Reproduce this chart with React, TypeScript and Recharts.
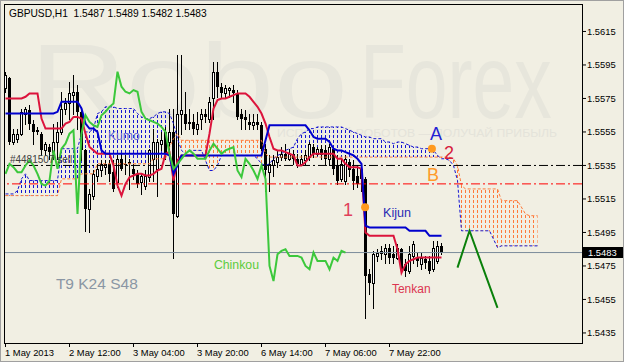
import {
  ComposedChart,
  Bar,
  Line,
  Area,
  XAxis,
  YAxis,
  ReferenceLine,
  ReferenceDot,
} from "recharts";

const FONT = '"Liberation Sans", Arial, sans-serif';

const symbol = "GBPUSD";
const period = "H1";

// hourly candles, bar 0 = left edge
const opens = [
  1.5581, 1.5587, 1.5549, 1.5551, 1.5554, 1.5566, 1.5568, 1.556, 1.5556, 1.5554,
  1.5544, 1.5546, 1.5543, 1.5549, 1.5555, 1.5569, 1.5572, 1.5577, 1.5579, 1.5567,
  1.5544, 1.5509, 1.5517, 1.5529, 1.5532, 1.5534, 1.5536, 1.5531, 1.5525, 1.5539,
  1.5536, 1.5537, 1.5533, 1.553, 1.5525, 1.5523, 1.5528, 1.5539, 1.5533, 1.5548,
  1.5555, 1.5549, 1.5555, 1.5505, 1.5566, 1.5566, 1.5561, 1.5561, 1.5557, 1.5563,
  1.5566, 1.5563, 1.5575, 1.5591, 1.5582, 1.5578, 1.558, 1.558, 1.5578, 1.5566,
  1.5564, 1.5561, 1.5559, 1.5561, 1.5559, 1.5545, 1.5531, 1.5535, 1.5537, 1.554,
  1.5542, 1.5539, 1.5542, 1.5539, 1.5536, 1.5538, 1.554, 1.5546, 1.5542, 1.5545,
  1.5544, 1.5539, 1.5545, 1.5535, 1.5527, 1.5526, 1.5537, 1.5533, 1.5529, 1.5533,
  1.5527, 1.547, 1.5465, 1.5481, 1.5483, 1.5482, 1.5486, 1.5482, 1.548, 1.5485,
  1.5476, 1.5472, 1.5481, 1.548, 1.5476, 1.5479, 1.5478, 1.5473, 1.5478, 1.5487,
];
const highs = [
  1.5591, 1.5588, 1.5557, 1.5557, 1.5569, 1.557, 1.5571, 1.5562, 1.5558, 1.5555,
  1.5549, 1.5548, 1.556, 1.5561, 1.5579, 1.5575, 1.5585, 1.5589, 1.5583, 1.557,
  1.5545, 1.5521, 1.5532, 1.5536, 1.5538, 1.5538, 1.5538, 1.5538, 1.5541, 1.5542,
  1.5541, 1.5539, 1.5536, 1.5532, 1.553, 1.5532, 1.5545, 1.5557, 1.5551, 1.5555,
  1.5558, 1.5569, 1.5569, 1.5601, 1.5601, 1.5579, 1.5569, 1.5566, 1.5567, 1.5569,
  1.5569, 1.5576, 1.5597, 1.5597, 1.5584, 1.5583, 1.5582, 1.5583, 1.558, 1.5569,
  1.5568, 1.5566, 1.5566, 1.5566, 1.5561, 1.5548, 1.5541, 1.5541, 1.5544, 1.5546,
  1.5548, 1.5545, 1.5544, 1.5542, 1.5541, 1.5544, 1.5549, 1.5548, 1.5546, 1.5547,
  1.5547, 1.5548, 1.5546, 1.5541, 1.5539, 1.5541, 1.5539, 1.5538, 1.5535, 1.5536,
  1.5528, 1.5473, 1.5484, 1.5485, 1.5487, 1.5488, 1.5488, 1.5487, 1.5488, 1.5486,
  1.5479, 1.5487, 1.549, 1.5483, 1.5483, 1.5481, 1.5481, 1.549, 1.549, 1.5489,
];
const lows = [
  1.5579, 1.5548, 1.5548, 1.5549, 1.5553, 1.556, 1.5557, 1.5548, 1.5554, 1.5541,
  1.5541, 1.5539, 1.5539, 1.5539, 1.5554, 1.5566, 1.5563, 1.5566, 1.5557, 1.5538,
  1.5496, 1.5495, 1.5515, 1.5526, 1.5529, 1.553, 1.5526, 1.552, 1.5522, 1.5532,
  1.553, 1.5521, 1.5527, 1.5522, 1.5518, 1.5521, 1.5526, 1.5526, 1.5517, 1.5544,
  1.5539, 1.5544, 1.548, 1.5504, 1.5554, 1.5557, 1.5557, 1.5554, 1.5554, 1.5557,
  1.5561, 1.5561, 1.5563, 1.5576, 1.5575, 1.5576, 1.5576, 1.5573, 1.5563, 1.5557,
  1.5557, 1.5557, 1.5557, 1.5557, 1.5544, 1.552, 1.552, 1.5529, 1.5534, 1.5538,
  1.5538, 1.5538, 1.5536, 1.5534, 1.5535, 1.5536, 1.5538, 1.554, 1.5541, 1.5539,
  1.5536, 1.5535, 1.553, 1.5524, 1.5526, 1.5524, 1.5529, 1.5521, 1.5522, 1.552,
  1.5444, 1.5458, 1.545, 1.5478, 1.5479, 1.5477, 1.5477, 1.5477, 1.5479, 1.5471,
  1.5469, 1.5471, 1.5477, 1.5475, 1.5473, 1.5474, 1.5471, 1.5472, 1.5477, 1.5482,
];
const closes = [
  1.5589, 1.5549, 1.5554, 1.5554, 1.5567, 1.5569, 1.556, 1.5555, 1.5555, 1.5544,
  1.5548, 1.5543, 1.5549, 1.5555, 1.5569, 1.5572, 1.5578, 1.5579, 1.5567, 1.5544,
  1.5509, 1.5518, 1.553, 1.5533, 1.5536, 1.5536, 1.553, 1.5521, 1.5539, 1.5533,
  1.5535, 1.5536, 1.553, 1.5524, 1.5529, 1.5529, 1.5544, 1.5549, 1.5549, 1.555,
  1.5542, 1.5555, 1.5506, 1.5566, 1.5568, 1.556, 1.556, 1.5557, 1.556, 1.5566,
  1.5564, 1.5573, 1.5591, 1.5582, 1.5578, 1.5581, 1.5581, 1.5578, 1.5564, 1.5563,
  1.5562, 1.5559, 1.5561, 1.5559, 1.5545, 1.5532, 1.5536, 1.5538, 1.554, 1.5542,
  1.5539, 1.5542, 1.5539, 1.5536, 1.5539, 1.5541, 1.5548, 1.5542, 1.5545, 1.5541,
  1.5539, 1.5546, 1.5533, 1.5526, 1.5536, 1.5539, 1.5532, 1.5526, 1.5524, 1.5527,
  1.5469, 1.5465, 1.5482, 1.5483, 1.5484, 1.5486, 1.548, 1.548, 1.5486, 1.5473,
  1.5472, 1.5482, 1.5488, 1.5478, 1.548, 1.5477, 1.5472, 1.5486, 1.5487, 1.5483,
];

// Ichimoku T9 K24 S48
const tenkan = [
  1.5575, 1.5575, 1.5575, 1.5575, 1.5575, 1.5576, 1.5578, 1.5578, 1.5578, 1.5563,
  1.5557, 1.5557, 1.5557, 1.5557, 1.5557, 1.556, 1.5561, 1.5564, 1.5564, 1.5563,
  1.5554, 1.5546, 1.5544, 1.5542, 1.5542, 1.5542, 1.5542, 1.5535, 1.5523, 1.5517,
  1.5524, 1.5528, 1.5529, 1.553, 1.553, 1.5529, 1.5529, 1.553, 1.5532, 1.5533,
  1.5542, 1.5543, 1.5526, 1.5538, 1.5541, 1.5541, 1.5541, 1.5541, 1.5541, 1.5541,
  1.5541, 1.5554, 1.5569, 1.5574, 1.5575, 1.5575, 1.5576, 1.5577, 1.5578, 1.5578,
  1.5578, 1.5576, 1.5573, 1.557, 1.5566, 1.556, 1.5552, 1.5545, 1.5544, 1.5544,
  1.5543, 1.5542, 1.5541, 1.5535, 1.5535, 1.5537, 1.554, 1.5542, 1.5542, 1.5542,
  1.5542, 1.5542, 1.5542, 1.5539, 1.5539, 1.5536, 1.5534, 1.5534, 1.5534, 1.5533,
  1.5495, 1.5493, 1.5493, 1.5493, 1.5493, 1.5493, 1.5493, 1.5493, 1.5485, 1.5471,
  1.5476, 1.5478, 1.5479, 1.548, 1.548, 1.548, 1.548, 1.548, 1.548, 1.548,
];
const kijun = [
  1.5566, 1.5566, 1.5566, 1.5566, 1.5566, 1.5566, 1.5566, 1.5566, 1.5566, 1.5566,
  1.5566, 1.5566, 1.5566, 1.5567, 1.5573, 1.5573, 1.5573, 1.5573, 1.5573, 1.5569,
  1.556, 1.5557, 1.5557, 1.5555, 1.5544, 1.5542, 1.5542, 1.5542, 1.5542, 1.5542,
  1.5542, 1.5542, 1.5542, 1.5542, 1.5542, 1.5542, 1.5542, 1.5542, 1.5542, 1.5542,
  1.5542, 1.5541, 1.553, 1.5535, 1.5541, 1.5541, 1.5541, 1.5541, 1.5541, 1.5541,
  1.5541, 1.5541, 1.5541, 1.5541, 1.5541, 1.5541, 1.5541, 1.5541, 1.5541, 1.5541,
  1.5541, 1.5541, 1.5541, 1.5541, 1.5541, 1.555, 1.5559, 1.5559, 1.5559, 1.5559,
  1.5559, 1.5559, 1.5559, 1.5559, 1.5559, 1.5559, 1.5556, 1.5552, 1.5551, 1.5551,
  1.5551, 1.5549, 1.5545, 1.5544, 1.5544, 1.5543, 1.5542, 1.5541, 1.5539, 1.5536,
  1.5499, 1.5498, 1.5498, 1.5498, 1.5498, 1.5498, 1.5498, 1.5498, 1.5498, 1.5498,
  1.5498, 1.5496, 1.5496, 1.5496, 1.5496, 1.5496, 1.5493, 1.5493, 1.5493, 1.5493,
];
const chinkou = [
  1.553, 1.5536, 1.5534, 1.5531, 1.5531, 1.5535, 1.5538, 1.5535, 1.553, 1.5524,
  1.5523, 1.5526, 1.5544, 1.5533, 1.5545, 1.5548, 1.5554, 1.5556, 1.5506, 1.5554,
  1.5565, 1.5561, 1.5559, 1.5558, 1.5565, 1.5567, 1.557, 1.5572, 1.5591, 1.5582,
  1.5579, 1.5578, 1.558, 1.5579, 1.5567, 1.5563, 1.5562, 1.5561, 1.556, 1.5558,
  1.5555, 1.5542, 1.5533, 1.5536, 1.5539, 1.5542, 1.5544, 1.5542, 1.5539, 1.5539,
  1.5539, 1.5544, 1.5548, 1.5545, 1.5542, 1.5544, 1.5545, 1.5546, 1.5532, 1.5528,
  1.5539, 1.5536, 1.5532, 1.5527, 1.5535, 1.5527, 1.5475, 1.5466, 1.5482, 1.5484,
  1.5485, 1.5481, 1.5481, 1.5481, 1.548, 1.5475, 1.5473, 1.5483, 1.5478, 1.5478,
  1.5478, 1.5473, 1.548, 1.5478, 1.5484, 1.5483,
];
const spanA = [
  1.5518, 1.5518, 1.5518, 1.552, 1.5527, 1.553, 1.5526, 1.5526, 1.5526, 1.5526,
  1.5526, 1.5526, 1.5526, 1.5526, 1.5545, 1.5545, 1.5545, 1.5545, 1.5545, 1.5554,
  1.5555, 1.5555, 1.5557, 1.5566, 1.5567, 1.557, 1.557, 1.557, 1.5569, 1.5569,
  1.5569, 1.5569, 1.5569, 1.5566, 1.5564, 1.5563, 1.5563, 1.5564, 1.5566, 1.5567,
  1.5567, 1.5566, 1.556, 1.5551, 1.5544, 1.5542, 1.5544, 1.5544, 1.5544, 1.5544,
  1.5538, 1.5532, 1.5532, 1.5535, 1.5541, 1.5541, 1.5541, 1.5541, 1.5541, 1.5541,
  1.5541, 1.5541, 1.5541, 1.5539, 1.5536, 1.5535, 1.5536, 1.5539, 1.5541, 1.5542,
  1.5544, 1.5545, 1.5546, 1.5551, 1.5554, 1.5555, 1.5557, 1.5557, 1.5558, 1.5558,
  1.5558, 1.5558, 1.5558, 1.5558, 1.5558, 1.5557, 1.5556, 1.5555, 1.5554, 1.5553,
  1.5552, 1.5552, 1.5551, 1.5551, 1.5551, 1.5549, 1.5549, 1.5548, 1.5549, 1.5549,
  1.5548, 1.5547, 1.5546, 1.5546, 1.5545, 1.5545, 1.5545, 1.5544, 1.5541, 1.5539,
  1.5539, 1.5538, 1.5535, 1.5526, 1.5496, 1.5496, 1.5496, 1.5496, 1.5496, 1.5496,
  1.5496, 1.5496, 1.5491, 1.5486, 1.5487, 1.5487, 1.5487, 1.5487, 1.5487, 1.5487,
  1.5487, 1.5487, 1.5487, 1.5487,
];
const spanB = [
  1.5517, 1.5517, 1.5517, 1.5517, 1.5517, 1.5517, 1.5517, 1.5517, 1.5517, 1.5517,
  1.5517, 1.5517, 1.5517, 1.5517, 1.5527, 1.5527, 1.5527, 1.5527, 1.5527, 1.553,
  1.553, 1.553, 1.553, 1.5536, 1.5536, 1.5536, 1.5536, 1.5536, 1.5536, 1.5536,
  1.5536, 1.5536, 1.5536, 1.5536, 1.5536, 1.5536, 1.5536, 1.5539, 1.5539, 1.5539,
  1.5539, 1.5546, 1.5551, 1.5554, 1.555, 1.555, 1.555, 1.555, 1.555, 1.555,
  1.555, 1.555, 1.555, 1.555, 1.555, 1.555, 1.555, 1.555, 1.555, 1.555,
  1.555, 1.555, 1.555, 1.555, 1.555, 1.5542, 1.554, 1.554, 1.554, 1.554,
  1.554, 1.554, 1.554, 1.554, 1.554, 1.554, 1.554, 1.554, 1.554, 1.554,
  1.554, 1.554, 1.554, 1.554, 1.554, 1.554, 1.554, 1.554, 1.554, 1.554,
  1.554, 1.554, 1.554, 1.554, 1.554, 1.554, 1.554, 1.554, 1.554, 1.554,
  1.554, 1.554, 1.554, 1.554, 1.554, 1.554, 1.554, 1.554, 1.554, 1.554,
  1.554, 1.554, 1.5539, 1.5535, 1.5523, 1.5521, 1.5521, 1.5521, 1.5521, 1.5521,
  1.5521, 1.5521, 1.5521, 1.5521, 1.5514, 1.5514, 1.5514, 1.5514, 1.5514, 1.551,
  1.5506, 1.5505, 1.5505, 1.5505,
];

// hand-drawn forecast: [bar, price]
const forecastPoints = [
  [113, 1.5474],
  [116, 1.5496],
  [123, 1.545],
];

const timeTickBars = [0, 16, 32, 48, 64, 80, 96];
const timeLabels = [
  "1 May 2013",
  "2 May 12:00",
  "3 May 04:00",
  "3 May 20:00",
  "6 May 14:00",
  "7 May 06:00",
  "7 May 22:00",
];
const priceTicks = [
  1.5435, 1.5455, 1.5475, 1.5495, 1.5515, 1.5535, 1.5555, 1.5575, 1.5595, 1.5615,
];

const orderLevel = 1.5535;
const alertLevel = 1.5524;

const annotations = [
  { text: "A", i: 107.6, p: 1.555, color: "#2222d4", size: 18, anchor: "middle" },
  { text: "2", i: 110.9, p: 1.5539, color: "#d6203c", size: 18, anchor: "middle" },
  { text: "B", i: 106.9, p: 1.5526, color: "#ff9a2a", size: 18, anchor: "middle" },
  { text: "1", i: 85.6, p: 1.5505, color: "#e0405a", size: 18, anchor: "middle" },
  { text: "Kijun", i: 94.4, p: 1.5504, color: "#2a2ab4", size: 12.6, anchor: "start" },
  { text: "Tenkan", i: 96.6, p: 1.5459, color: "#dc3450", size: 12, anchor: "start" },
  { text: "Chinkou", i: 52.1, p: 1.5473, color: "#5ccc3c", size: 12.3, anchor: "start" },
  { text: "Kumo", i: 25.6, p: 1.555, color: "#6262d8", size: 12.2, anchor: "start" },
  { text: "T9 K24 S48", i: 12.6, p: 1.5461, color: "#8a96a4", size: 15.5, anchor: "start" },
  { text: "#4481507 sell", i: 1.1, p: 1.55365, color: "#404040", size: 10, anchor: "start" },
];
const markerDots = [
  { i: 106.6, p: 1.5545 },
  { i: 89.9, p: 1.551 },
];

const up = (k: number) => spanA[k] >= spanB[k];

const rows = spanA.map((a, i) => {
  const b = spanB[i];
  const lo = Math.min(a, b);
  const hi = Math.max(a, b);
  const near = [i - 1, i, i + 1].filter((k) => k >= 0 && k < spanA.length);
  const row: any = {
    i,
    spanA: a,
    spanB: b,
    bull: near.some((k) => up(k)) ? [lo, hi] : null,
    bear: near.some((k) => !up(k)) ? [lo, hi] : null,
  };
  if (i < opens.length) {
    row.o = opens[i];
    row.h = highs[i];
    row.l = lows[i];
    row.c = closes[i];
    row.range = [lows[i], highs[i]];
    row.tenkan = tenkan[i];
    row.kijun = kijun[i];
  }
  if (i < chinkou.length) row.chinkou = chinkou[i];
  const f = forecastPoints.find((pt) => pt[0] === i);
  if (f) row.forecast = f[1];
  return row;
});

const Candle = (props: any) => {
  const { x, y, width, height, payload } = props;
  if (!payload || payload.o == null || !isFinite(y)) return <g />;
  const top = Math.min(y, y + height);
  const bot = Math.max(y, y + height);
  const span = payload.h - payload.l;
  const py = (v: number) => (span > 0 ? top + ((payload.h - v) / span) * (bot - top) : top);
  const cx = Math.round(x + width / 2 - 0.5) + 0.5;
  const yo = Math.round(py(payload.o));
  const yc = Math.round(py(payload.c));
  const bt = Math.min(yo, yc);
  const bb = Math.max(yo, yc);
  const bull = payload.c >= payload.o;
  return (
    <g>
      <line x1={cx} x2={cx} y1={Math.round(top)} y2={Math.round(bot) + 1} stroke="#000" strokeWidth={1} />
      {bull ? (
        <rect x={cx - 1} y={bt + 0.5} width={2} height={Math.max(bb - bt, 0)} fill="#fff" stroke="#000" strokeWidth={1} />
      ) : (
        <rect x={cx - 1.5} y={bt} width={3} height={Math.max(bb - bt, 1)} fill="#000" />
      )}
    </g>
  );
};

const TimeTick = (props: any) => {
  const { x, payload } = props;
  const lx = Math.floor(x) + 0.5;
  return (
    <g>
      <line x1={lx} x2={lx} y1={343} y2={347} stroke="#000" />
      <text x={x - 0.5} y={355.5} fontSize={9.4} fontFamily={FONT} fill="#000">
        {timeLabels[timeTickBars.indexOf(payload.value)]}
      </text>
    </g>
  );
};

export default function App() {
  const last = opens.length - 1;
  const title = `${symbol},${period}  ${opens[last].toFixed(4)} ${highs[last].toFixed(4)} ${lows[last].toFixed(4)} ${closes[last].toFixed(4)}`;
  const lastClose = closes[last];

  return (
    <div
      style={{
        position: "absolute",
        left: 0,
        top: 0,
        width: 624,
        height: 362,
        background: "#f1efe3",
        overflow: "hidden",
        fontFamily: FONT,
      }}
    >
      <svg width={624} height={362} style={{ position: "absolute", left: 0, top: 0 }}>
        <text
          transform="translate(30,118) scale(1,0.8)"
          fontSize={133}
          fontFamily={FONT}
          fill="#e7e6dc"
        >
          Robo
        </text>
        <text
          transform="translate(360,118) scale(1,1.41)"
          fontSize={75}
          fontFamily={FONT}
          fill="#e7e6dc"
        >
          Forex
        </text>
        <text x={277} y={137} fontSize={11} fontFamily={FONT} fill="#e4e3da" textLength={280} lengthAdjust="spacingAndGlyphs">
          ИСПОЛЬЗУЙ РОБОТОВ — ПОЛУЧАЙ ПРИБЫЛЬ
        </text>
      </svg>
      <div style={{ position: "absolute", left: 0, top: 0 }}>
        <ComposedChart width={624} height={362} data={rows} margin={{ top: 4, right: 0, bottom: 0, left: 4 }}>
          <defs>
            <pattern id="hatchBlue" patternUnits="userSpaceOnUse" x={5} y={0} width={4} height={5}>
              <rect x={0} y={0} width={1} height={3} fill="#1414d2" />
            </pattern>
            <pattern id="hatchOrange" patternUnits="userSpaceOnUse" x={5} y={0} width={4} height={5}>
              <rect x={0} y={0} width={1} height={3} fill="#ff7a3a" />
            </pattern>
          </defs>
          <XAxis
            dataKey="i"
            type="number"
            domain={[-0.375, 144.125]}
            allowDataOverflow
            ticks={timeTickBars}
            interval={0}
            tick={TimeTick}
            tickLine={false}
            axisLine={false}
            height={19}
          />
          <YAxis
            orientation="right"
            type="number"
            domain={[1.5429, 1.56314]}
            allowDataOverflow
            ticks={priceTicks}
            interval={0}
            tickFormatter={(v: number) => v.toFixed(4)}
            tick={{ fontSize: 9.4, fill: "#000", fontFamily: FONT }}
            tickLine={{ stroke: "#000" }}
            tickSize={4}
            tickMargin={1}
            axisLine={false}
            width={42}
          />
          <Area dataKey="bull" fill="url(#hatchBlue)" fillOpacity={1} stroke="none" isAnimationActive={false} connectNulls={false} />
          <Area dataKey="bear" fill="url(#hatchOrange)" fillOpacity={1} stroke="none" isAnimationActive={false} connectNulls={false} />
          <Line dataKey="spanA" stroke="#1414d2" strokeWidth={1} strokeDasharray="3 2" dot={false} isAnimationActive={false} />
          <Line dataKey="spanB" stroke="#ff7a3a" strokeWidth={1} strokeDasharray="3 2" dot={false} isAnimationActive={false} />
          <ReferenceLine y={orderLevel} stroke="#000" strokeDasharray="9 3 2 3" />
          <ReferenceLine y={alertLevel} stroke="#ff0000" strokeDasharray="9 3 2 3" />
          <ReferenceLine
            y={lastClose}
            stroke="#7b8b9b"
            label={(p: any) => {
              const vy = p.viewBox?.y ?? 0;
              return (
                <g>
                  <rect x={583} y={Math.floor(vy) - 5} width={41} height={11} fill="#000" />
                  <text x={588} y={vy + 3.4} fontSize={9.4} fontFamily={FONT} fill="#fff">
                    {lastClose.toFixed(4)}
                  </text>
                </g>
              );
            }}
          />
          <Bar dataKey="range" barSize={4} shape={Candle} isAnimationActive={false} />
          <Line dataKey="tenkan" stroke="#dc143c" strokeWidth={2} dot={false} isAnimationActive={false} />
          <Line dataKey="kijun" stroke="#0000cd" strokeWidth={2} dot={false} isAnimationActive={false} />
          <Line dataKey="chinkou" stroke="#3cc83c" strokeWidth={2} dot={false} isAnimationActive={false} />
          <Line dataKey="forecast" stroke="#0a800a" strokeWidth={2} dot={false} connectNulls isAnimationActive={false} />
          {markerDots.map((d, k) => (
            <ReferenceDot key={`dot-${k}`} x={d.i} y={d.p} r={4} fill="#ff9a1e" stroke="none" />
          ))}
          {annotations.map((a, k) => (
            <ReferenceDot
              key={`ann-${k}`}
              x={a.i}
              y={a.p}
              r={0}
              shape={(p: any) => (
                <text x={p.cx} y={p.cy} fontSize={a.size} fontFamily={FONT} fill={a.color} textAnchor={a.anchor}>
                  {a.text}
                </text>
              )}
            />
          ))}
        </ComposedChart>
      </div>
      <div
        style={{
          position: "absolute",
          left: 4,
          top: 4,
          width: 579,
          height: 340,
          border: "1px solid #000",
          boxSizing: "border-box",
          pointerEvents: "none",
        }}
      />
      <div
        style={{
          position: "absolute",
          left: 9,
          top: 8,
          fontSize: 10.2,
          lineHeight: "11px",
          whiteSpace: "pre",
          color: "#000",
        }}
      >
        {title}
      </div>
      <div
        style={{
          position: "absolute",
          left: 0,
          top: 0,
          width: 624,
          height: 362,
          border: "1px solid #a0a0a0",
          boxSizing: "border-box",
          pointerEvents: "none",
        }}
      />
    </div>
  );
}
